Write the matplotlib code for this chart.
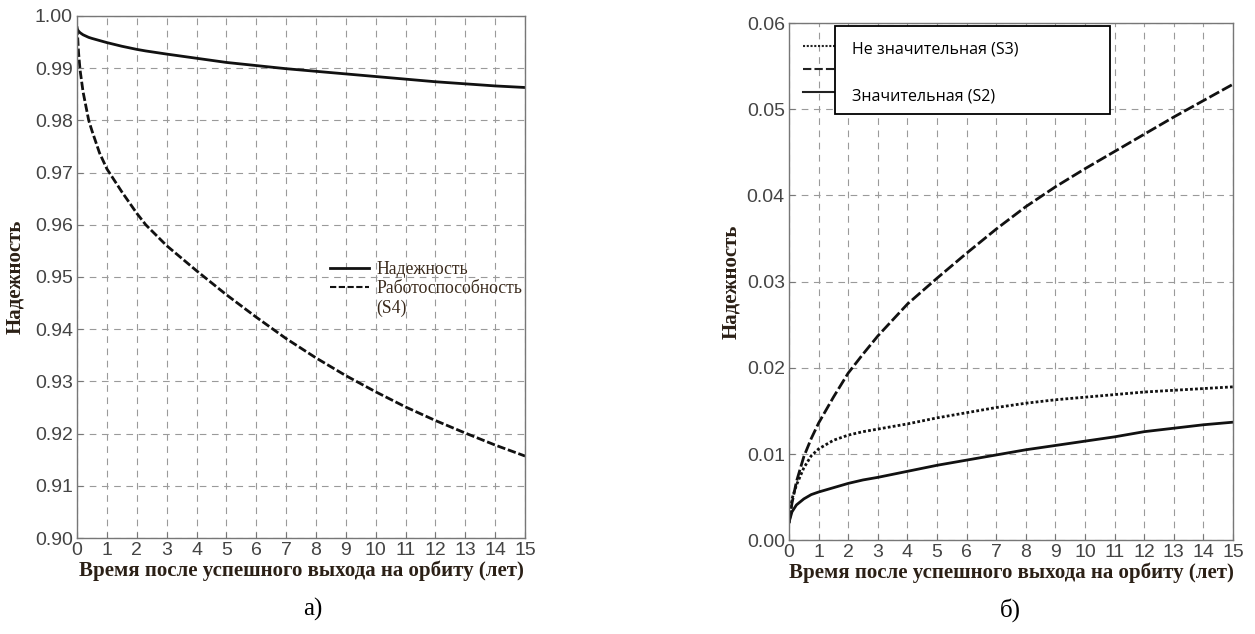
import matplotlib.pyplot as plt
from matplotlib.patches import Rectangle
from matplotlib.lines import Line2D

plt.rcParams['font.family'] = ['Liberation Sans', 'DejaVu Sans']

# а) reliability and operability over time
t_a = [0, 0.05, 0.1, 0.2, 0.39, 0.5, 0.75, 1, 1.5, 2, 2.3, 3, 4, 5, 6, 7, 8, 9, 10,
       11, 12, 13, 14, 15]
reliability = [0.9975, 0.9971, 0.9968, 0.9964, 0.9959, 0.9957, 0.9953, 0.9949, 0.9942,
               0.9936, 0.9933, 0.9927, 0.9919, 0.9911, 0.9905, 0.9899, 0.9894, 0.9889,
               0.9884, 0.9879, 0.9874, 0.9870, 0.9866, 0.9863]
operability = [0.9980, 0.9930, 0.9897, 0.9855, 0.9800, 0.9780, 0.9738, 0.9707, 0.9663,
               0.9622, 0.9600, 0.9560, 0.9512, 0.9466, 0.9423, 0.9382, 0.9345, 0.9311,
               0.9280, 0.9251, 0.9225, 0.9201, 0.9178, 0.9157]

# б) failure categories over time
t_b = [0, 0.1, 0.25, 0.5, 0.75, 1, 1.5, 2, 2.5, 3, 4, 5, 6, 7, 8, 9, 10, 11, 12, 13, 14, 15]
minor_s3 = [0.0020, 0.0048, 0.0064, 0.0084, 0.0098, 0.0106, 0.0116, 0.0122, 0.0126, 0.0129,
            0.0135, 0.0142, 0.0148, 0.0154, 0.0159, 0.0163, 0.0166, 0.0169, 0.0172, 0.0174,
            0.0176, 0.0178]
medium = [0.0020, 0.0043, 0.0068, 0.0097, 0.0118, 0.0136, 0.0166, 0.0194, 0.0216, 0.0237,
          0.0274, 0.0304, 0.0333, 0.0361, 0.0387, 0.0410, 0.0431, 0.0451, 0.0471, 0.0491,
          0.0510, 0.0529]
major_s2 = [0.0021, 0.0033, 0.0041, 0.0048, 0.0053, 0.0056, 0.0061, 0.0066, 0.0070, 0.0073,
            0.0080, 0.0087, 0.0093, 0.0099, 0.0105, 0.0110, 0.0115, 0.0120, 0.0126, 0.0130,
            0.0134, 0.0137]

x_ticks = list(range(0, 16))
ya_ticks = [0.90, 0.91, 0.92, 0.93, 0.94, 0.95, 0.96, 0.97, 0.98, 0.99, 1.00]
yb_ticks = [0.00, 0.01, 0.02, 0.03, 0.04, 0.05, 0.06]

xlabel = 'Время после успешного выхода на орбиту (лет)'
ylabel = 'Надежность'
label_color = '#2b2016'
serif_bold = dict(family='Liberation Serif', weight='bold', size=15, color=label_color)


def setup(ax, yticks, fmt):
    ax.set_xlim(0, 15)
    ax.set_ylim(yticks[0], yticks[-1])
    ax.set_xticks(x_ticks)
    ax.set_yticks(yticks)
    ax.set_yticklabels([fmt % v for v in yticks])
    ax.tick_params(direction='in', length=4, width=0.8, colors='#777777',
                   labelcolor='#444444', labelsize=14, pad=3)
    ax.grid(True, color='#9a9a9a', linestyle=(0, (6, 5)), linewidth=0.8)
    for s in ax.spines.values():
        s.set_color('#777777')
        s.set_linewidth(1.0)
    ax.set_xlabel(xlabel, fontdict=serif_bold, labelpad=1)


fig = plt.figure(figsize=(12.55, 6.34), dpi=100)

ax1 = fig.add_axes([0.0614, 0.1514, 0.3570, 0.8234])
setup(ax1, ya_ticks, '%.2f')
line_r, = ax1.plot(t_a, reliability, color='#111111', linewidth=2.0)
line_o, = ax1.plot(t_a, operability, color='#111111', linewidth=2.0, linestyle=(0, (3, 1)))
ax1.set_ylabel(ylabel, fontdict=serif_bold, labelpad=7)
legend_dash = Line2D([], [], color='#111111', linewidth=1.5, linestyle=(0, (3, 1.2)))
blank = Line2D([], [], linestyle='none')
leg = ax1.legend([line_r, legend_dash, blank],
                 ['Надежность', 'Работоспособность', '(S4)'],
                 loc='upper left', bbox_to_anchor=(0.565, 0.530), frameon=False,
                 prop={'family': 'Liberation Serif', 'size': 12.7},
                 handlelength=2.2, handletextpad=0.4, labelspacing=0.12,
                 borderpad=0, borderaxespad=0)
for txt in leg.get_texts():
    txt.set_color('#3a2a1c')

ax2 = fig.add_axes([0.6287, 0.1478, 0.3538, 0.8159])
setup(ax2, yb_ticks, '%.2f')
ax2.plot(t_b, minor_s3, color='#111111', linewidth=2.0, linestyle=(0, (1, 0.8)))
ax2.plot(t_b, medium, color='#111111', linewidth=2.0, linestyle=(0, (4, 1.2)))
ax2.plot(t_b, major_s2, color='#111111', linewidth=2.0)
ax2.set_ylabel(ylabel, fontdict=serif_bold, labelpad=4)

# line samples, partly covered by the label box
handles = [Line2D([], [], color='#222222', linewidth=1.5, linestyle=(0, (1, 0.8))),
           Line2D([], [], color='#222222', linewidth=1.5, linestyle=(0, (4, 1.5))),
           Line2D([], [], color='#222222', linewidth=1.5)]
ax2.legend(handles, ['', '', ''], loc='upper left', bbox_to_anchor=(0.0315, 0.968),
           frameon=False, handlelength=3, labelspacing=0.5, fontsize=12,
           borderpad=0, borderaxespad=0)
ax2.add_patch(Rectangle((0.1036, 0.824), 0.619, 0.170, transform=ax2.transAxes,
                        facecolor='white', edgecolor='black', linewidth=1.3,
                        zorder=6, clip_on=False))
ax2.text(0.142, 0.948, 'Не значительная (S3)', transform=ax2.transAxes,
         family='Open Sans', fontsize=11.5, va='center', zorder=7)
ax2.text(0.142, 0.857, 'Значительная (S2)', transform=ax2.transAxes,
         family='Open Sans', fontsize=11.5, va='center', zorder=7)

fig.text(0.249, 0.038, 'а)', family='Liberation Serif', fontsize=18, ha='center', va='center')
fig.text(0.805, 0.038, 'б)', family='Liberation Serif', fontsize=18, ha='center', va='center')

fig.savefig('out.png', dpi=100)
